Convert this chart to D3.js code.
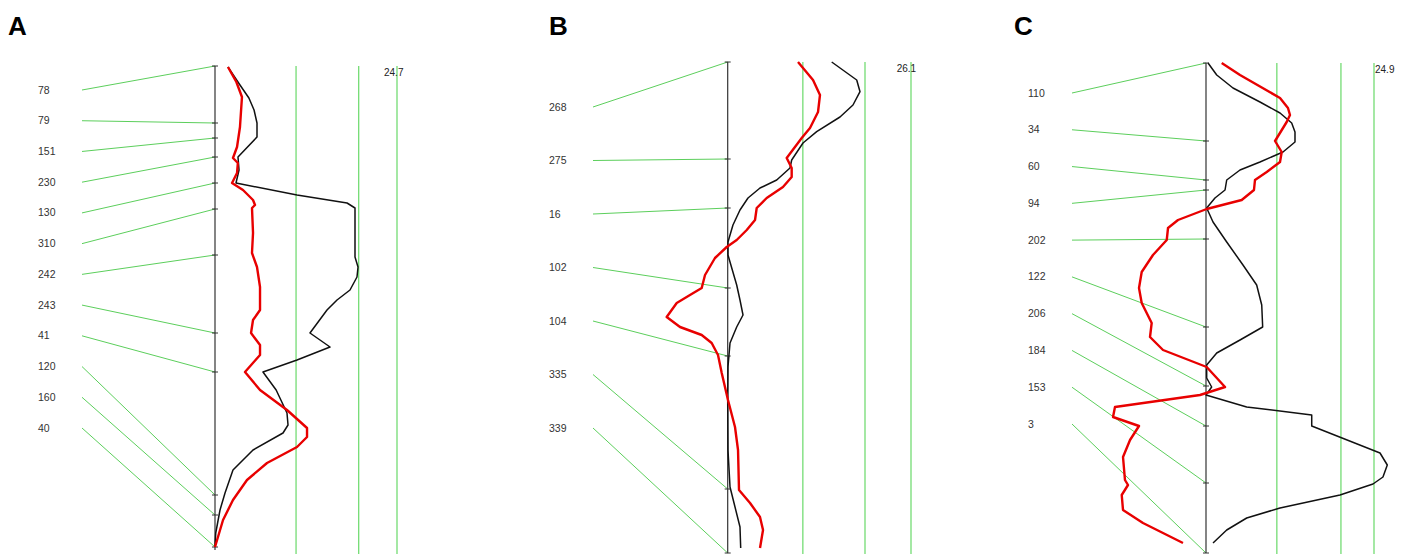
<!DOCTYPE html>
<html lang="en">
<head>
<meta charset="UTF-8">
<script src="https://cdn.jsdelivr.net/npm/d3@7"></script>
<style>
  body { margin: 0; background: #fff; }
  svg { display: block; font-family: Arial, "Liberation Sans", sans-serif; }
  .mlabel { font-size: 10.5px; fill: #333; }
  .maxlab { font-size: 10px; fill: #222; }
  .letter { font-size: 26px; font-weight: bold; fill: #000; }
</style>
</head>
<body>
<svg id="chart"></svg>
<script>
// ---- data: marker names, marker positions (cM), LOD thresholds, curves [cM, value] ----
var labelsA = ["78","79","151","230","130","310","242","243","41","120","160","40"];
var markersA = [0, 14.25, 18, 22.75, 29.25, 35.75, 47.25, 66.75, 76.5, 107.25, 112.25, 120.25];
var lengthA = 121, maxA = 24.7, thresholdsA = [11.0, 19.5];
var blackA = [[0.25,1.76],[4.75,3.39],[8,4.6],[11,5.3],[14.25,5.7],[17.75,5.7],[22.75,3.12],[26,3.26],[29.25,2.85],
  [32.25,11.13],[34.25,17.92],[35.5,19.0],[47.75,19.0],[50.25,19.41],[52.75,19.27],[56,18.32],
  [58.5,16.56],[61,15.2],[66.75,12.89],[70.25,15.61],[73.5,11.13],[76.5,6.51],[81,8.3],[86.75,9.77],
  [89.75,9.91],[91.75,9.23],[96,5.16],[101,2.44],[106.75,1.36],[111,0.68],[116.75,0.1],[120.25,0]];
var redA = [[0.25,1.76],[4,2.9],[7.75,3.66],[15.25,3.39],[20.25,2.99],[23,2.44],[24.25,3.1],[26.75,2.99],
  [29.25,2.31],[31,3.8],[33.5,5.16],[34.75,5.43],[35.5,5.02],[41.75,5.16],[46.75,5.02],[50.25,5.7],
  [55.25,6.11],[61,6.11],[63.5,5.16],[66.75,4.89],[69.75,6.11],[72.25,6.11],[76.5,4.07],[81,6.11],
  [86,9.77],[90.5,12.49],[92.75,12.49],[95.25,11.13],[99.25,7.06],[103.5,4.34],[108.5,2.44],
  [113.5,1.09],[120.25,0]];

var labelsB = ["268","275","16","102","104","335","339"];
var markersB = [0, 19.4, 29.2, 45.2, 58.8, 85.4, 98.2];
var lengthB = 98.2, maxB = 26.1, thresholdsB = [10.7, 19.55];
var blackB = [[0,14.81],[3.6,18.37],[5.94,18.84],[8.6,17.84],[11,15.99],[13.94,12.67],[16.2,10.72],
  [19.6,9.11],[21.2,8.87],[23.6,6.98],[25.2,4.6],[27.2,2.89],[29.6,1.75],[32.6,0.75],[36,0.04],
  [38.6,0.04],[44.6,1.28],[47.6,1.75],[50.6,2.18],[53,1.28],[56.2,0.33],[61,0.04],[67.6,0],
  [77.6,0.04],[85,0.33],[89,1.04],[93,1.75],[97.2,1.85]];
var redB = [[0,10.01],[3.6,12.15],[6.6,13.14],[10,12.86],[13.2,11.72],[15.2,10.54],[19.2,8.4],
  [21.2,9.11],[23,9.11],[25,7.87],[27.2,5.55],[29.2,4.13],[31.6,3.89],[33.6,2.71],[35.6,1.28],
  [37,-0.14],[39.2,-1.81],[42.6,-3.23],[45.2,-3.7],[46.6,-5.37],[48.2,-7.26],[51,-8.69],[53,-6.79],
  [54.6,-3.7],[56.2,-2.28],[58.6,-1.38],[62.2,-0.85],[67.6,0.04],[73,1.04],[77.6,1.47],[85.6,1.61],
  [88.2,3.18],[91,4.6],[93.6,5.03],[97.2,4.6]];

var labelsC = ["110","34","60","94","202","122","206","184","153","3"];
var markersC = [0, 19.5, 29.25, 31.75, 44, 66, 80.75, 90.75, 105, 122.5];
var lengthC = 122.5, maxC = 24.9, thresholdsC = [10.5, 20.0];
var blackC = [[0,0.3],[3,1.59],[6.25,4.0],[9.75,8.0],[12.5,10.97],[15,12.7],[17.25,13.19],
  [19.75,13.19],[22.25,11.41],[24.75,8.0],[26.75,5.04],[29.25,3.07],[31.75,2.82],[33.75,1.33],
  [36.25,0.1],[39.75,1.04],[44.75,3.07],[50.5,5.48],[55.5,7.51],[60.5,8.26],[66,8.4],[69.25,5.04],
  [72.5,1.59],[75.5,0.1],[78.75,0.1],[81,0.84],[83,0],[86,6.03],[88,15.67],[90.75,15.67],
  [97.5,25.79],[100.5,26.87],[103.5,26.23],[105.25,24.75],[108,19.86],[111.25,10.97],
  [113.75,6.03],[116.75,3.07],[120,1.04]];
var redC = [[0,2.33],[3,5.04],[8.75,10.97],[11.25,12.15],[13,12.45],[14.75,11.96],[19.5,10.23],
  [22.25,11.22],[24.75,10.97],[27.25,9.0],[29.25,7.26],[31.75,7.11],[34.25,5.29],[36.5,0.1],
  [39.25,-4.15],[41.25,-5.63],[44.25,-5.82],[48,-7.86],[52.25,-9.53],[56.25,-9.93],[60,-9.53],
  [65,-8.05],[68.5,-8.3],[71.75,-6.37],[76,0.1],[81,2.82],[83,-0.89],[86,-13.49],[88.5,-13.78],
  [90.75,-9.93],[94.25,-11.26],[98.5,-12.3],[104.25,-12.01],[105.5,-11.56],[108,-12.49],
  [111.75,-12.3],[115,-9.34],[120,-3.41]];

// ---- layout ----
var W = 1408, H = 554;
var panels = [
  {letter:"A", letterX:8,   axisX:215,   top:66, bottom:550, lodW:182,   lineX:82,  labTop:90,  labBot:428,
   labels:labelsA, markers:markersA, len:lengthA, max:maxA, thr:thresholdsA, black:blackA, red:redA},
  {letter:"B", letterX:549, axisX:727.7, top:62, bottom:553, lodW:183.3, lineX:593, labTop:107, labBot:428,
   labels:labelsB, markers:markersB, len:lengthB, max:maxB, thr:thresholdsB, black:blackB, red:redB},
  {letter:"C", letterX:1014, axisX:1206, top:63, bottom:553, lodW:168,  lineX:1072, labTop:93, labBot:424,
   labels:labelsC, markers:markersC, len:lengthC, max:maxC, thr:thresholdsC, black:blackC, red:redC}
];

var svg = d3.select("#chart").attr("width", W).attr("height", H);

panels.forEach(function(p) {
  var y = d3.scaleLinear().domain([0, p.len]).range([p.top, p.bottom]);
  var x = d3.scaleLinear().domain([0, p.max]).range([p.axisX, p.axisX + p.lodW]);
  var ly = d3.scalePoint().domain(p.labels).range([p.labTop, p.labBot]);
  var g = svg.append("g");

  g.append("text").attr("class", "letter").attr("x", p.letterX).attr("y", 35).text(p.letter);

  // threshold + max lines
  p.thr.concat([p.max]).forEach(function(t) {
    g.append("line").attr("x1", x(t)).attr("x2", x(t)).attr("y1", p.top).attr("y2", H)
      .attr("stroke", "#74dc74").attr("stroke-width", 1.3);
  });
  g.append("text").attr("class", "maxlab").attr("x", p.axisX + 169).attr("y", p.top + 10).text(p.max);

  // marker labels and connectors
  p.labels.forEach(function(l, i) {
    g.append("line").attr("x1", p.lineX).attr("y1", ly(l))
      .attr("x2", p.axisX).attr("y2", y(p.markers[i]))
      .attr("stroke", "#5ccf5c").attr("stroke-width", 1);
    g.append("text").attr("class", "mlabel").attr("x", p.lineX - 44).attr("y", ly(l) + 3.5).text(l);
  });

  // chromosome axis with ticks
  g.append("line").attr("x1", p.axisX).attr("x2", p.axisX).attr("y1", p.top).attr("y2", p.bottom)
    .attr("stroke", "#333").attr("stroke-width", 1.2);
  g.selectAll(".tick").data(p.markers).enter().append("line")
    .attr("x1", p.axisX - 3).attr("x2", p.axisX + 3)
    .attr("y1", function(d) { return y(d); }).attr("y2", function(d) { return y(d); })
    .attr("stroke", "#333").attr("stroke-width", 1);

  var line = d3.line().x(function(d) { return x(d[1]); }).y(function(d) { return y(d[0]); });
  g.append("path").attr("d", line(p.black)).attr("fill", "none")
    .attr("stroke", "#111").attr("stroke-width", 1.5).attr("stroke-linejoin", "round");
  g.append("path").attr("d", line(p.red)).attr("fill", "none")
    .attr("stroke", "#e80000").attr("stroke-width", 2.4).attr("stroke-linejoin", "round");
});
</script>
</body>
</html>
